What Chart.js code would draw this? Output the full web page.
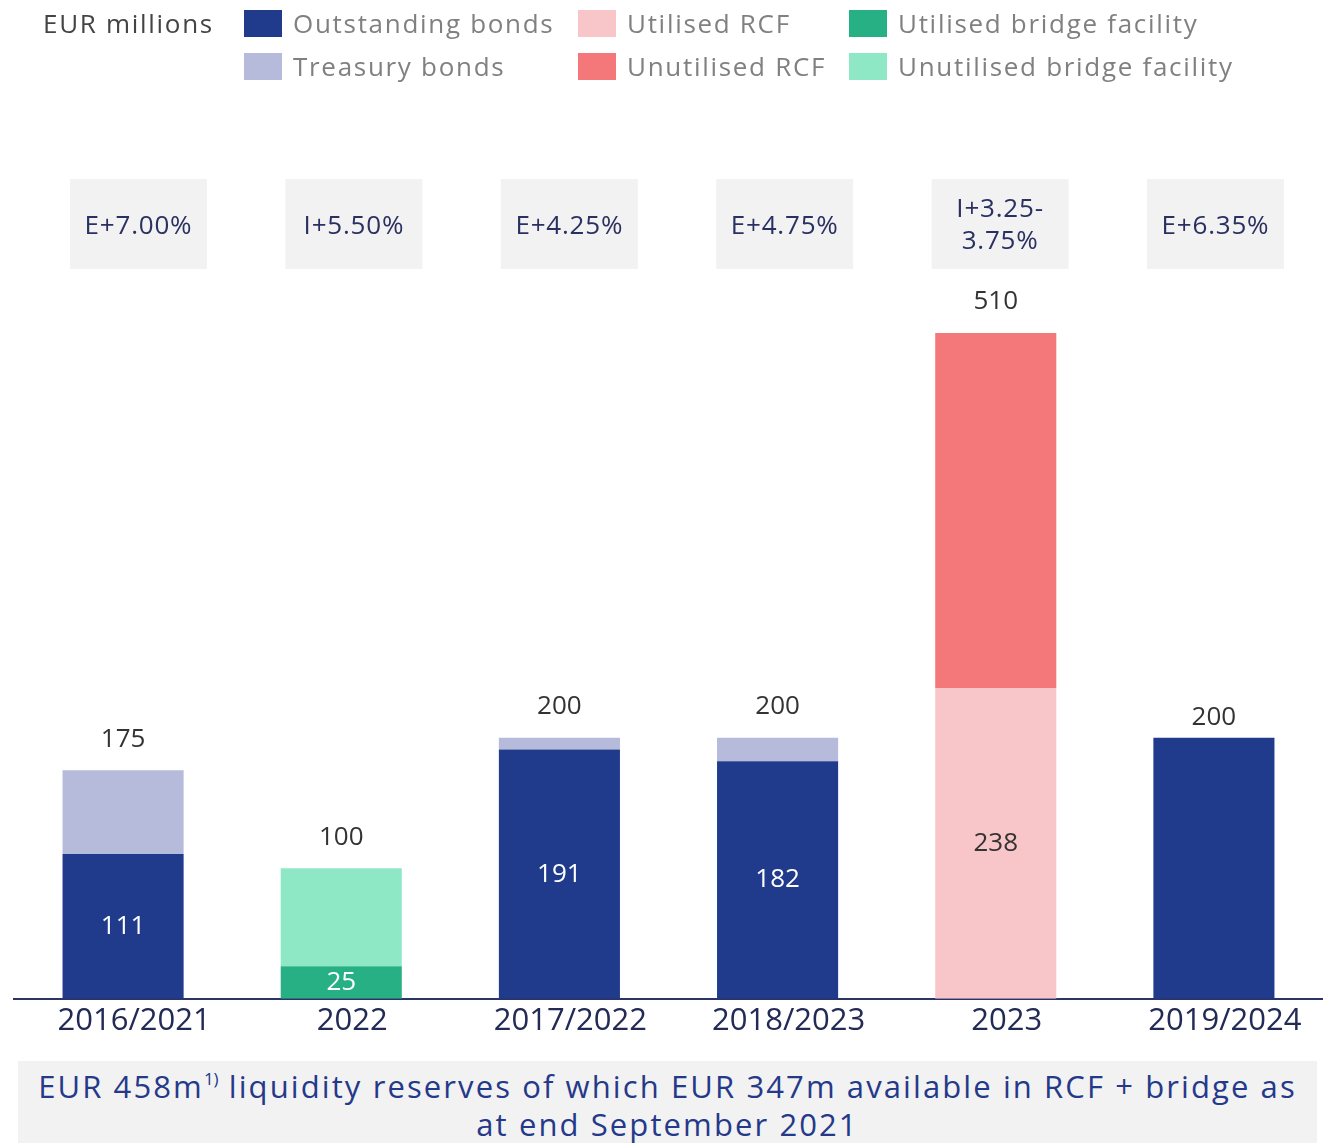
<!DOCTYPE html>
<html>
<head>
<meta charset="utf-8">
<script src="https://cdn.jsdelivr.net/npm/chart.js@4/dist/chart.umd.min.js"></script>
<style>
    body { margin: 0; background: #ffffff; }
    #wrap { position: relative; width: 1323px; height: 1143px; }
    #chart { position: absolute; left: 0; top: 0; }
    #footer {
        position: absolute; left: 18px; top: 1061px; width: 1299px; height: 82px;
        background: #f2f2f2; color: #25398a; text-align: center;
        font-family: 'Open Sans', sans-serif; font-size: 31px; line-height: 38px;
        letter-spacing: 2.1px; white-space: nowrap;
        padding-top: 6px; box-sizing: border-box;
    }
    #footer sup { font-size: 17px; line-height: 0; vertical-align: 13px; letter-spacing: 0; }
</style>
</head>
<body>
<div id="wrap">
    <canvas id="chart" width="1323" height="1143"></canvas>
    <div id="footer">EUR 458m<sup>1)</sup> liquidity reserves of which EUR 347m available in RCF + bridge as<br>at end September 2021</div>
</div>
<script>
// Data
const categories = ['2016/2021', '2022', '2017/2022', '2018/2023', '2023', '2019/2024'];
const outstandingBonds = [111, null, 191, 182, null, 200];
const treasuryBonds = [64, null, 9, 18, null, null];
const utilisedRCF = [null, null, null, null, 238, null];
const unutilisedRCF = [null, null, null, null, 272, null];
const utilisedBridge = [null, 25, null, null, null, null];
const unutilisedBridge = [null, 75, null, null, null, null];
const rateLabels = ['E+7.00%', 'I+5.50%', 'E+4.25%', 'E+4.75%', ['I+3.25-', '3.75%'], 'E+6.35%'];

const FONT = "'Open Sans', sans-serif";

// Overlay: legend, rate boxes, totals and inside labels
const overlayPlugin = {
    id: 'overlay',
    afterDatasetsDraw(chart) {
        const ctx = chart.ctx;
        const xs = chart.scales.x;
        const ys = chart.scales.y;
        const sets = chart.data.datasets;
        ctx.save();

        // legend
        ctx.textBaseline = 'middle';
        ctx.textAlign = 'left';
        ctx.letterSpacing = '1.7px';
        ctx.font = '26px ' + FONT;
        ctx.fillStyle = '#444444';
        ctx.fillText('EUR millions', 43, 26);
        const colX = [244, 578, 849];
        const rowY = [10, 53];
        sets.forEach((ds, i) => {
            const x = colX[Math.floor(i / 2)];
            const y = rowY[i % 2];
            ctx.fillStyle = ds.backgroundColor;
            ctx.fillRect(x, y, 38, 27);
            ctx.fillStyle = '#808080';
            ctx.font = '26px ' + FONT;
            ctx.fillText(ds.label, x + 49, y + 16);
        });

        // rate boxes
        ctx.textAlign = 'center';
        ctx.letterSpacing = '0.8px';
        rateLabels.forEach((lab, i) => {
            const cx = 138.5 + i * 215.4;
            ctx.fillStyle = '#f2f2f2';
            ctx.fillRect(cx - 68.5, 179, 137, 90);
            ctx.fillStyle = '#2a3060';
            ctx.font = '26px ' + FONT;
            const lines = Array.isArray(lab) ? lab : [lab];
            const cy = lines.length > 1 ? 226 : 227;
            lines.forEach((l, j) => {
                ctx.fillText(l, cx, cy + (j - (lines.length - 1) / 2) * 32);
            });
        });

        // totals and inside labels
        ctx.letterSpacing = '0px';
        categories.forEach((c, i) => {
            const x = xs.getPixelForValue(i);
            let total = 0;
            sets.forEach(ds => { total += ds.data[i] || 0; });
            ctx.fillStyle = '#333333';
            ctx.font = '26px ' + FONT;
            const lift = i === categories.length - 1 ? 20 : 31;
            ctx.fillText(String(total), x, ys.getPixelForValue(total) - lift);

            let base = 0;
            sets.forEach(ds => {
                const v = ds.data[i];
                if (!v) return;
                if (ds.inside && v !== total) {
                    ctx.fillStyle = ds.insideColor;
                    ctx.fillText(String(v), x, ys.getPixelForValue(base + v / 2));
                }
                base += v;
            });
        });
        ctx.restore();
    }
};

function drawChart() {
    const ctx = document.getElementById('chart').getContext('2d');
    new Chart(ctx, {
        type: 'bar',
        data: {
            labels: categories,
            datasets: [
                { label: 'Outstanding bonds', data: outstandingBonds, backgroundColor: '#213b8c', inside: true, insideColor: '#ffffff' },
                { label: 'Treasury bonds', data: treasuryBonds, backgroundColor: '#b6badb' },
                { label: 'Utilised RCF', data: utilisedRCF, backgroundColor: '#f8c6c8', inside: true, insideColor: '#333333' },
                { label: 'Unutilised RCF', data: unutilisedRCF, backgroundColor: '#f47779' },
                { label: 'Utilised bridge facility', data: utilisedBridge, backgroundColor: '#27b083', inside: true, insideColor: '#ffffff' },
                { label: 'Unutilised bridge facility', data: unutilisedBridge, backgroundColor: '#8ee8c6' }
            ]
        },
        options: {
            responsive: false,
            animation: false,
            barPercentage: 1,
            categoryPercentage: 0.555,
            layout: { padding: { top: 85, left: 14, right: 0, bottom: 107 } },
            scales: {
                x: {
                    stacked: true,
                    grid: { display: false },
                    border: { display: true, color: '#2b3467', width: 2 },
                    ticks: { color: '#222a55', font: { family: FONT, size: 31 }, labelOffset: 11, padding: -4, maxRotation: 0 }
                },
                y: {
                    stacked: true,
                    display: false,
                    min: 0,
                    max: 700
                }
            },
            plugins: { legend: { display: false }, tooltip: { enabled: false } }
        },
        plugins: [overlayPlugin]
    });
}

window.onload = drawChart;
</script>
</body>
</html>
